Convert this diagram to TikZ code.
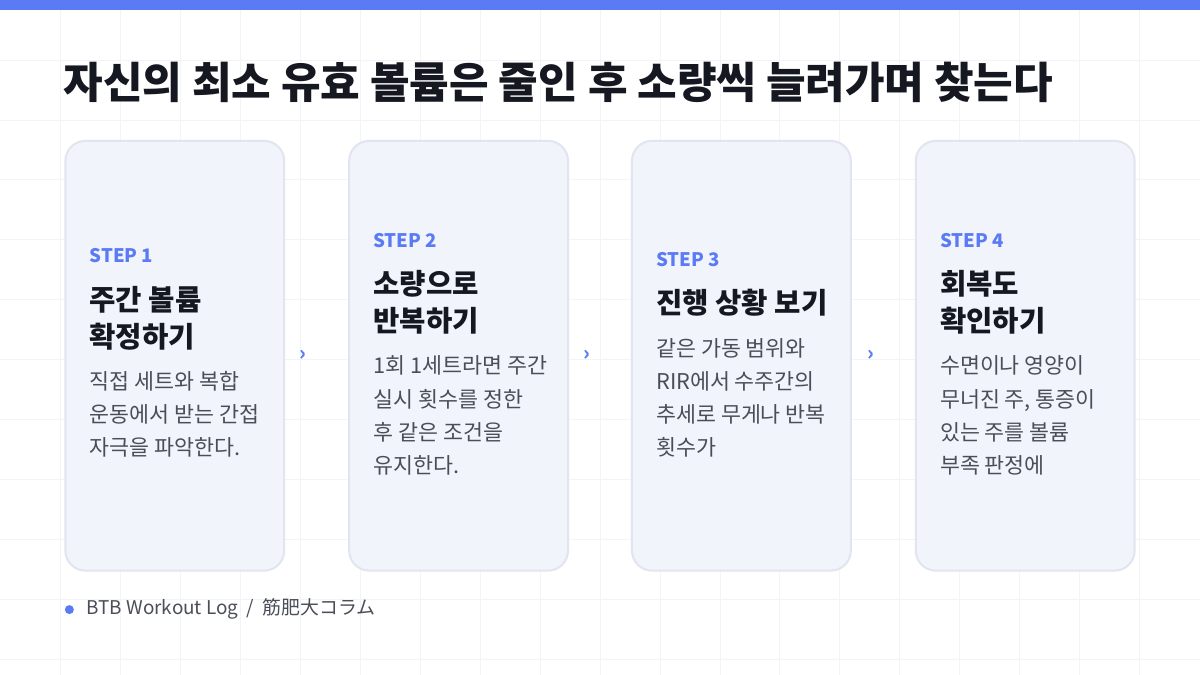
\documentclass[tikz,border=0pt]{standalone}
\usepackage{fontspec}
\setmainfont{Noto Sans CJK KR}
\usetikzlibrary{calc,positioning}
\definecolor{accent}{HTML}{5B7BF5}
\definecolor{cardfill}{HTML}{F2F4FB}
\definecolor{cardline}{HTML}{E1E5F0}
\definecolor{ink}{HTML}{151820}
\definecolor{body}{HTML}{4A4E58}
\definecolor{gridc}{HTML}{F3F4F7}
\begin{document}
\begin{tikzpicture}[x=0.75pt,y=-0.75pt]
    \tikzset{
      card/.style={draw=cardline,line width=1.5pt,fill=cardfill,rounded corners=15pt},
      steplabel/.style={anchor=north west,inner sep=0pt,text=accent,font=\fontsize{14}{17}\selectfont\bfseries},
      head/.style={anchor=north west,inner sep=0pt,text=ink,align=left,font=\fontsize{21.5}{27.75}\selectfont\bfseries},
      txt/.style={anchor=north west,inner sep=0pt,text=body,align=left,font=\fontsize{16.3}{25}\selectfont},
      chev/.style={text=accent,font=\fontsize{15}{15}\selectfont\bfseries},
    }
    % background and grid
    \fill[white] (0,0) rectangle (1200,675);
    \foreach \gx in {60,120,...,1140} \draw[gridc,line width=0.6pt] (\gx,10) -- (\gx,675);
    \foreach \gy in {60,120,...,660} \draw[gridc,line width=0.6pt] (0,\gy) -- (1200,\gy);
    \fill[accent] (0,0) rectangle (1200,10);
    \useasboundingbox (0,0) rectangle (1200,675);

    \node[anchor=west,inner sep=0pt,text=ink,font=\fontsize{32.3}{38}\selectfont\bfseries] (title) at (63,82)
      {자신의 최소 유효 볼륨은 줄인 후 소량씩 늘려가며 찾는다};

    % cards
    \foreach \cx in {65,349,632,916}
      \draw[card] (\cx,141) rectangle (\cx+219,571);

    \node[steplabel] (s1) at (89,248) {STEP 1};
    \node[head] (h1) at (89,286) {주간 볼륨\\확정하기};
    \node[txt]  (t1) at (89,371) {직접 세트와 복합\\운동에서 받는 간접\\자극을 파악한다.};

    \node[steplabel] (s2) at (373,233) {STEP 2};
    \node[head] (h2) at (373,270) {소량으로\\반복하기};
    \node[txt]  (t2) at (373,356) {1회 1세트라면 주간\\실시 횟수를 정한\\후 같은 조건을\\유지한다.};

    \node[steplabel] (s3) at (656,252) {STEP 3};
    \node[head] (h3) at (656,289) {진행 상황 보기};
    \node[txt]  (t3) at (656,338) {같은 가동 범위와\\RIR에서 수주간의\\추세로 무게나 반복\\횟수가};

    \node[steplabel] (s4) at (940,233) {STEP 4};
    \node[head] (h4) at (940,270) {회복도\\확인하기};
    \node[txt]  (t4) at (940,356) {수면이나 영양이\\무너진 주, 통증이\\있는 주를 볼륨\\부족 판정에};

    % chevrons between cards
    \node[chev] (a1) at (303,356) {›};
    \node[chev] (a2) at (587,356) {›};
    \node[chev] (a3) at (871,356) {›};

    % footer
    \fill[accent] (69,610) circle (4.5);
    \node[anchor=west,inner sep=0pt,text=body,font=\fontsize{14.2}{16}\selectfont] (foot) at (86,609)
      {BTB Workout Log \ / \ 筋肥大コラム};
\end{tikzpicture}
\end{document}
